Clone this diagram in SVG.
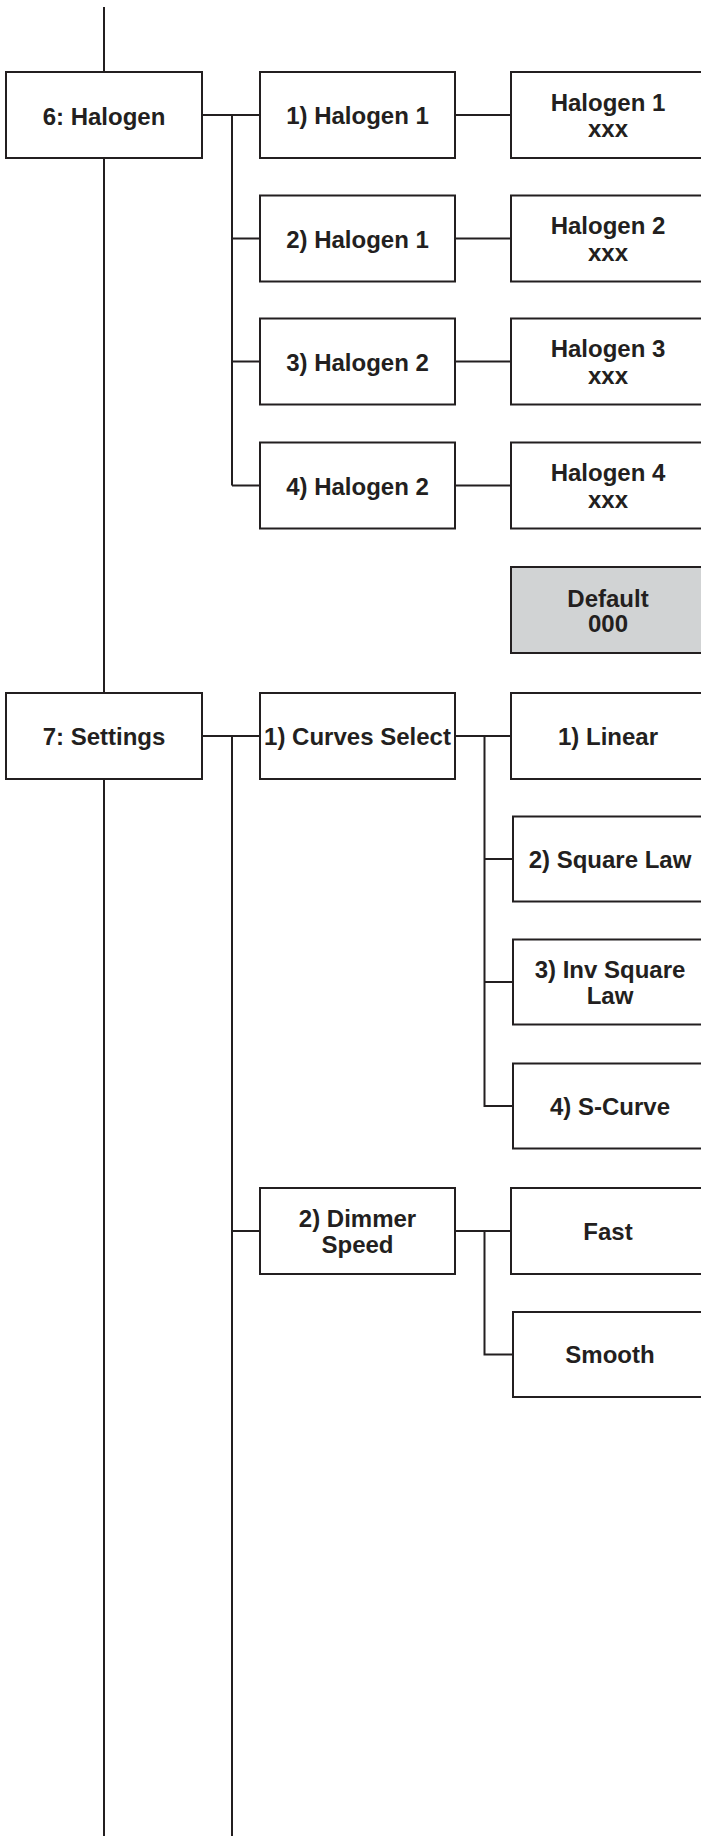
<svg xmlns="http://www.w3.org/2000/svg" width="701" height="1836" viewBox="0 0 701 1836">
<style>
.b{fill:#fff;stroke:#231f20;stroke-width:2}
.g{fill:#d1d3d4;stroke:#231f20;stroke-width:2}
.c{fill:none;stroke:#231f20;stroke-width:2}
text{font-family:"Liberation Sans",Arial,sans-serif;font-weight:bold;font-size:24px;fill:#231f20;text-anchor:middle}
</style>
<rect width="701" height="1836" fill="#fff"/>
<g id="connectors" class="c">
<path d="M104 7V72M104 158V693M104 779V1836"/>
<path d="M202 115H260M232 115V485.5M232 238.5H260M232 361.5H260M232 485.5H260"/>
<path d="M455 115H511M455 238.5H511M455 361.5H511M455 485.5H511"/>
<path d="M202 736H260M232 736V1836M232 1231H260"/>
<path d="M455 736H511M484.5 736V1106H513M484.5 859H513M484.5 982H513"/>
<path d="M455 1231H511M484.5 1231V1354.5H513"/>
</g>
<g id="n6"><rect class="b" x="6" y="72" width="196" height="86"/><text x="104" y="124.5">6: Halogen</text></g>
<g id="h1"><rect class="b" x="260" y="72" width="195" height="86"/><text x="357.5" y="124">1) Halogen 1</text></g>
<g id="h2"><rect class="b" x="260" y="195.5" width="195" height="86"/><text x="357.5" y="247.5">2) Halogen 1</text></g>
<g id="h3"><rect class="b" x="260" y="318.5" width="195" height="86"/><text x="357.5" y="370.5">3) Halogen 2</text></g>
<g id="h4"><rect class="b" x="260" y="442.5" width="195" height="86"/><text x="357.5" y="494.5">4) Halogen 2</text></g>
<g id="v1"><rect class="b" x="511" y="72" width="195" height="86"/><text x="608" y="110.5">Halogen 1</text><text x="608" y="137">xxx</text></g>
<g id="v2"><rect class="b" x="511" y="195.5" width="195" height="86"/><text x="608" y="234">Halogen 2</text><text x="608" y="260.5">xxx</text></g>
<g id="v3"><rect class="b" x="511" y="318.5" width="195" height="86"/><text x="608" y="357">Halogen 3</text><text x="608" y="383.5">xxx</text></g>
<g id="v4"><rect class="b" x="511" y="442.5" width="195" height="86"/><text x="608" y="481">Halogen 4</text><text x="608" y="507.5">xxx</text></g>
<g id="def"><rect class="g" x="511" y="567" width="195" height="86"/><text x="608" y="606.5">Default</text><text x="608" y="632">000</text></g>
<g id="n7"><rect class="b" x="6" y="693" width="196" height="86"/><text x="104" y="745">7: Settings</text></g>
<g id="cs"><rect class="b" x="260" y="693" width="195" height="86"/><text x="357.5" y="745">1) Curves Select</text></g>
<g id="lin"><rect class="b" x="511" y="693" width="195" height="86"/><text x="608" y="745">1) Linear</text></g>
<g id="sq"><rect class="b" x="513" y="816.5" width="195" height="85"/><text x="610" y="867.5">2) Square Law</text></g>
<g id="isq"><rect class="b" x="513" y="939.5" width="195" height="85"/><text x="610" y="977.5">3) Inv Square</text><text x="610" y="1004">Law</text></g>
<g id="sc"><rect class="b" x="513" y="1063.5" width="195" height="85"/><text x="610" y="1114.5">4) S-Curve</text></g>
<g id="ds"><rect class="b" x="260" y="1188" width="195" height="86"/><text x="357.5" y="1226.5">2) Dimmer</text><text x="357.5" y="1253">Speed</text></g>
<g id="fast"><rect class="b" x="511" y="1188" width="195" height="86"/><text x="608" y="1240">Fast</text></g>
<g id="smooth"><rect class="b" x="513" y="1312" width="195" height="85"/><text x="610" y="1363">Smooth</text></g>
</svg>
